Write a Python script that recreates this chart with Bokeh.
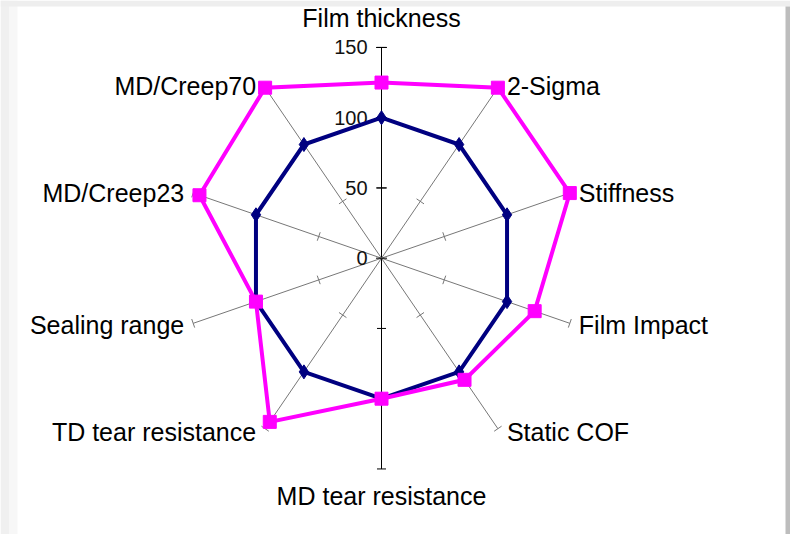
import math
from bokeh.plotting import figure
from bokeh.embed import file_html
from bokeh.resources import INLINE
from bokeh.core.properties import value

# ---- data ----
categories = ["Film thickness", "2-Sigma", "Stiffness", "Film Impact", "Static COF",
              "MD tear resistance", "TD tear resistance", "Sealing range",
              "MD/Creep23", "MD/Creep70"]
reference_values = [100, 100, 100, 100, 100, 100, 100, 100, 100, 100]
new_values = [125, 150, 150, 122, 107, 100, 144, 100, 145, 150]
tick_values = [0, 50, 100, 150]
tick_labels = ["0", "50", "100", "150"]
r_max = 150

# ---- geometry / scales ----
W, H = 790, 534
sx, sy = 1.32, 1.405          # pixels per data unit (x, y)
cx_px, cy_px = 381.0, 257.7   # centre in figure pixels
x0 = -cx_px / sx
x1 = (W - cx_px) / sx
y1 = cy_px / sy
y0 = -(H - cy_px) / sy

p = figure(width=W, height=H, x_range=(x0, x1), y_range=(y0, y1),
           output_backend="svg", toolbar_location=None,
           x_axis_location=None, y_axis_location=None,
           min_border=0, outline_line_color=None, background_fill_color="white",
           border_fill_color="white")
p.xgrid.visible = False
p.ygrid.visible = False


def px2x(px):
    return (px - cx_px) / sx


def py2y(py):
    return (cy_px - py) / sy


# screenshot frame shading (left, top, right)
p.quad(left=[px2x(0)], right=[px2x(9)], bottom=[y0], top=[y1],
       fill_color="#f0f0f0", line_color=None)
p.quad(left=[px2x(9)], right=[px2x(17)], bottom=[y0], top=[y1],
       fill_color="#f7f7f7", line_color=None)
p.quad(left=[x0], right=[x1], bottom=[py2y(6)], top=[y1],
       fill_color="#eeeeee", line_color=None)
p.quad(left=[px2x(785)], right=[x1], bottom=[y0], top=[py2y(6)],
       fill_color="#bdbdbd", line_color=None)

n = len(categories)
angles = [2 * math.pi * i / n for i in range(n)]


def pt(r, a):
    return r * math.sin(a), r * math.cos(a)


# spokes
for i, a in enumerate(angles):
    ex, ey = pt(r_max, a)
    col = "black" if i in (0, 5) else "#777777"
    p.line([0, ex], [0, ey], line_color=col, line_width=1)
    dxs, dys = math.sin(a) * sx, math.cos(a) * sy
    ln = math.hypot(dxs, dys)
    px_, py_ = -dys / ln, dxs / ln
    hl = 4.5
    for t in tick_values[1:]:
        tx, ty = pt(t, a)
        p.segment(x0=[tx - px_ * hl / sx], y0=[ty - py_ * hl / sy],
                  x1=[tx + px_ * hl / sx], y1=[ty + py_ * hl / sy],
                  line_color=col, line_width=1)

# value axis ticks (crossing) and labels
for t in tick_values:
    p.segment(x0=[-5.5 / sx], y0=[t], x1=[5.5 / sx], y1=[t],
              line_color="black", line_width=1)
p.text(x=[0] * len(tick_values), y=tick_values, text=tick_labels,
       x_offset=-14, text_align="right", text_baseline="middle",
       text_font=value("Liberation Sans"), text_font_size=value("20px"),
       text_color="#111111")


def series(vals):
    xs, ys = [], []
    for v, a in zip(vals, angles):
        x, y = pt(v, a)
        xs.append(x)
        ys.append(y)
    return xs, ys


bx, by = series(reference_values)
p.line(bx + [bx[0]], by + [by[0]], line_color="#000080", line_width=4, line_join="miter")
p.scatter(bx, by, marker="diamond", size=14, fill_color="#000080", line_color="#000080")

mx, my = series(new_values)
p.line(mx + [mx[0]], my + [my[0]], line_color="#FF00FF", line_width=4, line_join="miter")
p.scatter(mx, my, marker="square", size=13, fill_color="#FF00FF", line_color="#FF00FF")

# category labels
for cat, a in zip(categories, angles):
    ex, ey = pt(r_max, a)
    s = math.sin(a)
    c = math.cos(a)
    if s > 0.1:
        align, xo, yo = "left", 9, -c * 3 + 0.5
    elif s < -0.1:
        align, xo, yo = "right", -9, -c * 3 + 0.5
    else:
        align, xo = "center", 0
        yo = -29 if c > 0 else 27
    p.text(x=[ex], y=[ey], text=[cat], x_offset=xo, y_offset=yo,
           text_align=align, text_baseline="middle",
           text_font=value("Liberation Sans"), text_font_size=value("25px"),
           text_color="black")

open("out.html", "w").write(file_html(p, INLINE))
